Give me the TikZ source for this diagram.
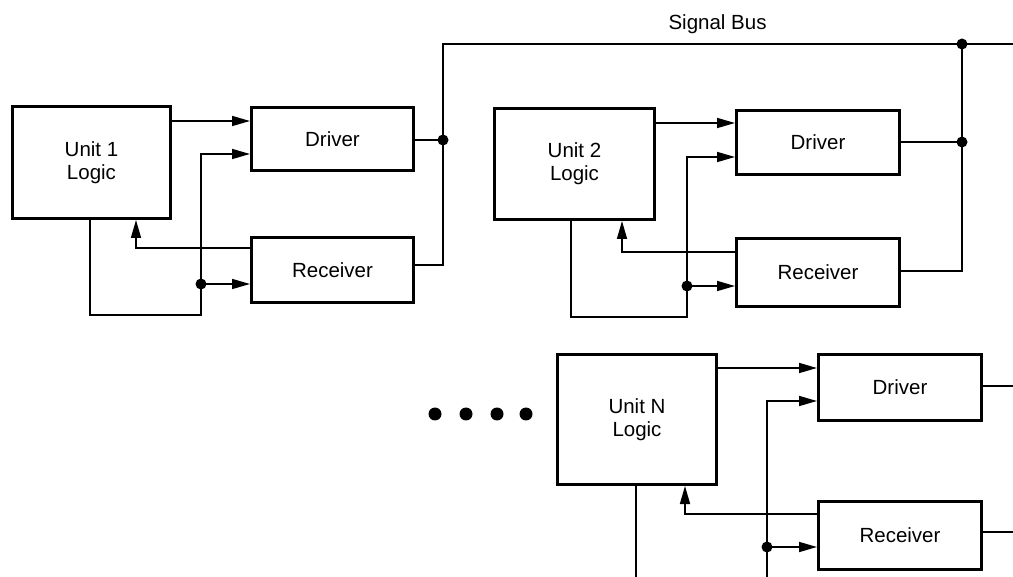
\documentclass[tikz,border=0pt]{standalone}
\usepackage{fontspec}
\setmainfont{Liberation Sans}
\usetikzlibrary{arrows.meta}
\begin{document}
\begin{tikzpicture}[x=1pt,y=-1pt,
  blk/.style={draw, line width=3pt, inner sep=0pt, anchor=north west, align=center,
    font=\fontsize{20.5}{23}\selectfont},
  wire/.style={line width=1.6pt},
  arr/.style={wire, -{Triangle[length=18pt,width=10pt]}},
  jdot/.style={fill=black},
  lbl/.style={font=\fontsize{20.5}{23}\selectfont}]
\useasboundingbox (0,0) rectangle (1013,577);

% ---------------- Unit 1 ----------------
\node[blk, minimum width=158pt, minimum height=112pt] (u1) at (11,105) {Unit 1\\Logic};
\node[blk, minimum width=162pt, minimum height=63pt] (d1) at (250,106) {Driver};
\node[blk, minimum width=162pt, minimum height=65pt] (r1) at (250,236) {Receiver};
\coordinate (j1) at (201,284);
\coordinate (o1) at (443,140);
\coordinate (b1) at (443,44);
\draw[arr] (u1.east |- 0,121) -- (d1.west |- 0,121);
\draw[arr] (u1.south -| 90,0) -- (90,315) -- (201,315) -- (201,154) -- (d1.west |- 0,154);
\draw[arr] (j1) -- (r1.west |- j1);
\draw[arr] (r1.west |- 0,248) -- (136,248) -- (u1.south -| 136,0);
\draw[wire] (d1.east |- o1) -- (o1);
\coordinate (busend) at (1013,44);
\draw[wire] (r1.east |- 0,265) -- (443,265) -- (b1) -- (busend);
\fill[jdot] (j1) circle (5.5pt);
\fill[jdot] (o1) circle (5.5pt);

\node[lbl, anchor=base west] (buslbl) at (665,30) {Signal Bus};

% ---------------- Unit 2 ----------------
\node[blk, minimum width=160pt, minimum height=111pt] (u2) at (493,107) {Unit 2\\Logic};
\node[blk, minimum width=163pt, minimum height=64pt] (d2) at (735,109) {Driver};
\node[blk, minimum width=163pt, minimum height=68pt] (r2) at (735,237) {Receiver};
\coordinate (j2) at (687,286);
\coordinate (o2) at (962,142);
\coordinate (b2) at (962,44);
\draw[arr] (u2.east |- 0,123) -- (d2.west |- 0,123);
\draw[arr] (u2.south -| 571,0) -- (571,317) -- (687,317) -- (687,157) -- (d2.west |- 0,157);
\draw[arr] (j2) -- (r2.west |- j2);
\draw[arr] (r2.west |- 0,252) -- (622,252) -- (u2.south -| 622,0);
\draw[wire] (d2.east |- o2) -- (o2);
\draw[wire] (r2.east |- 0,271) -- (962,271) -- (b2);
\fill[jdot] (j2) circle (5.5pt);
\fill[jdot] (o2) circle (5.5pt);
\fill[jdot] (b2) circle (5.5pt);

% ---------------- Unit N ----------------
\node[blk, minimum width=159pt, minimum height=130pt] (un) at (556,353) {Unit N\\Logic};
\node[blk, minimum width=163pt, minimum height=66pt] (dn) at (817,353) {Driver};
\node[blk, minimum width=163pt, minimum height=68pt] (rn) at (817,500) {Receiver};
\coordinate (jn) at (767,547);
\coordinate (vnb) at (767,577);
\coordinate (unb) at (636,577);
\coordinate (dnout) at (1013,386);
\coordinate (rnout) at (1013,532);
\draw[arr] (un.east |- 0,368) -- (dn.west |- 0,368);
\draw[arr] (vnb) -- (767,401) -- (dn.west |- 0,401);
\draw[arr] (jn) -- (rn.west |- jn);
\draw[arr] (rn.west |- 0,514) -- (685,514) -- (un.south -| 685,0);
\draw[wire] (un.south -| unb) -- (unb);
\draw[wire] (dn.east |- dnout) -- (dnout);
\draw[wire] (rn.east |- rnout) -- (rnout);
\fill[jdot] (jn) circle (5.5pt);

% ellipsis dots
\foreach \x in {435,466,497,526} \fill (\x,414) circle (6.5pt);
\end{tikzpicture}
\end{document}
